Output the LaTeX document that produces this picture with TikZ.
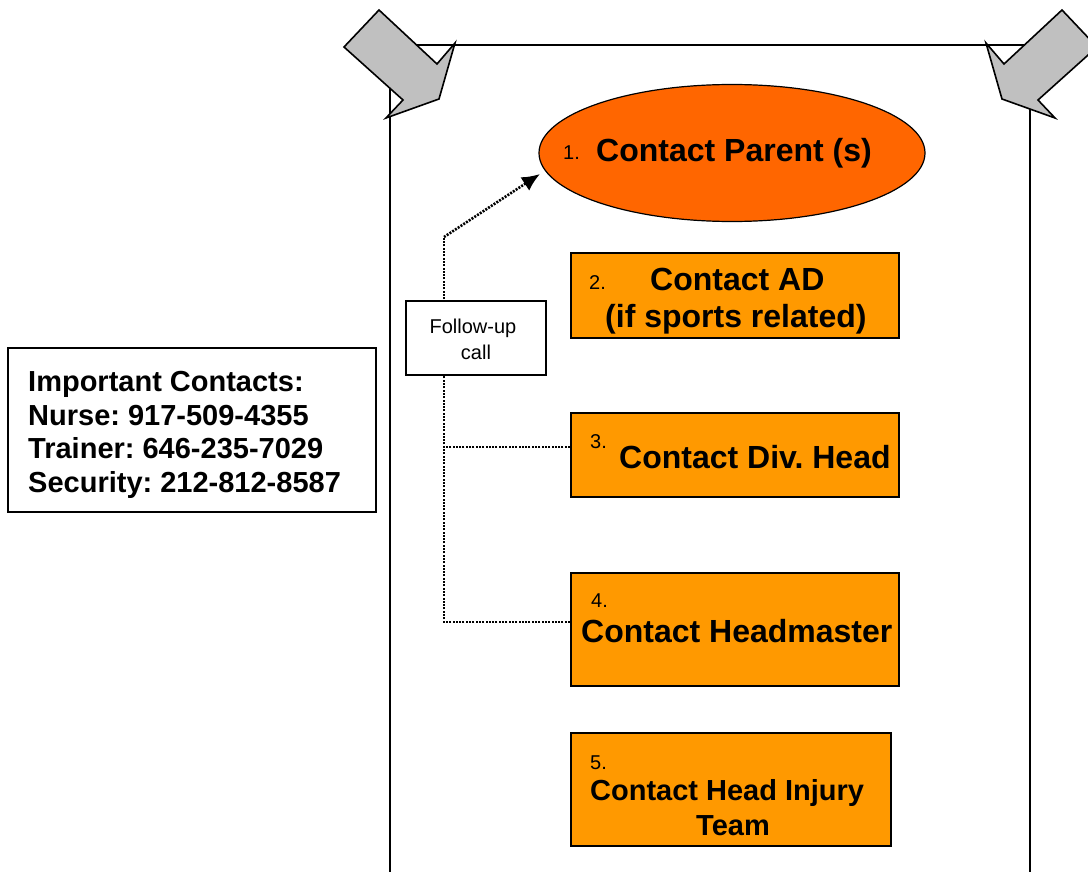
\documentclass[tikz,border=0pt]{standalone}
\usepackage{fontspec}
\setmainfont{Liberation Sans}
\usetikzlibrary{shapes.geometric,arrows.meta}
\definecolor{parentfill}{HTML}{FF6600}
\definecolor{stepfill}{HTML}{FF9900}
\definecolor{arrowgrey}{HTML}{C0C0C0}
\frenchspacing
\begin{document}
\begin{tikzpicture}[x=1pt,y=-1pt,
  stepbox/.style={draw=black,line width=2pt,fill=stepfill,inner sep=0pt},
  big/.style={inner sep=0pt,font=\fontsize{32}{37}\selectfont\bfseries},
  mid/.style={inner sep=0pt,font=\fontsize{29}{33}\selectfont\bfseries},
  num/.style={inner sep=0pt,font=\fontsize{20}{24}\selectfont},
  info/.style={inner sep=0pt,font=\fontsize{29}{33}\selectfont\bfseries},
  link/.style={line width=2.6pt,dash pattern=on 2pt off 1.3pt},
  blockarrow/.style={draw=black,line width=1.6pt,fill=arrowgrey,line join=miter}]
\useasboundingbox (0,0) rectangle (1088,872);
\fill[white] (0,0) rectangle (1088,872);

% open frame
\draw[line width=1.6pt] (390,872) -- (390,45) -- (1030,45) -- (1030,872);

% grey block arrows at the top corners
\draw[blockarrow] (379,10) -- (437,64) -- (455,43) -- (439,99) -- (386,118) -- (403,100) -- (344,47) -- cycle;
\draw[blockarrow] (1062,10) -- (1004,64) -- (986,43) -- (1002,99) -- (1055,118) -- (1038,100) -- (1097,47) -- cycle;

% step 1
\node[ellipse,draw=black,line width=1.2pt,fill=parentfill,minimum width=386pt,minimum height=137pt,inner sep=0pt] (parent) at (732,153) {};
\node[num,anchor=base west] (n1) at (563,160) {1.};
\node[big,anchor=base west] (t1) at (596,162) {Contact Parent (s)};

% step 2
\node[stepbox,minimum width=328pt,minimum height=85pt] (ad) at (735,295.5) {};
\node[num,anchor=base west] (n2) at (589,289) {2.};
\node[big,anchor=base west] (t2a) at (650,290) {Contact AD};
\node[big,anchor=base west] (t2b) at (605,327) {(if sports related)};

% step 3
\node[stepbox,minimum width=328pt,minimum height=84pt] (div) at (735,455) {};
\node[num,anchor=base west] (n3) at (590,448) {3.};
\node[big,anchor=base west] (t3) at (619,468) {Contact Div. Head};

% step 4
\node[stepbox,minimum width=328pt,minimum height=113pt] (head) at (735,629.5) {};
\node[num,anchor=base west] (n4) at (591,607) {4.};
\node[big,anchor=base west] (t4) at (581,642) {Contact Headmaster};

% step 5
\node[stepbox,minimum width=320pt,minimum height=113pt] (team) at (731,789.5) {};
\node[num,anchor=base west] (n5) at (590,769) {5.};
\node[mid,anchor=base west] (t5a) at (590,800) {Contact Head Injury};
\node[mid,anchor=base] (t5b) at (733,835) {Team};

% follow-up connectors
\coordinate (bend) at (444,237);
\coordinate (j3) at (444,447);
\coordinate (j4) at (444,622);
\draw[link] (head.west |- j4) -- (j4) -- (bend);
\draw[link,-{Latex[length=18pt,width=16pt]}] (bend) -- (540,174);
\draw[link] (div.west |- j3) -- (j3);

% follow-up label
\node[draw=black,line width=1.2pt,fill=white,minimum width=140pt,minimum height=74pt,inner sep=0pt] (follow) at (476,338) {};
\node[num,anchor=base] (f1) at (473,333) {Follow-up};
\node[num,anchor=base] (f2) at (476,359) {call};

% contacts
\node[draw=black,line width=1.2pt,fill=white,minimum width=368pt,minimum height=164pt,inner sep=0pt] (contacts) at (192,430) {};
\node[info,anchor=base west] (c1) at (28,391) {Important Contacts:};
\node[info,anchor=base west] (c2) at (28,425) {Nurse: 917-509-4355};
\node[info,anchor=base west] (c3) at (28,458) {Trainer: 646-235-7029};
\node[info,anchor=base west] (c4) at (28,492) {Security: 212-812-8587};
\end{tikzpicture}
\end{document}
